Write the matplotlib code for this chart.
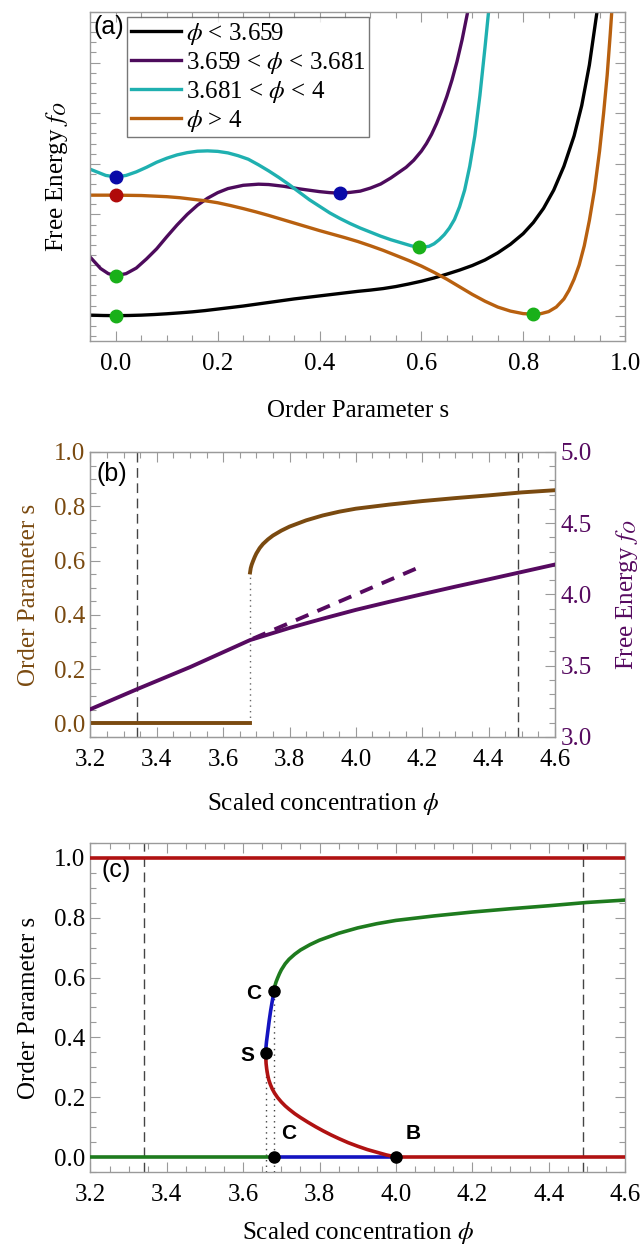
import numpy as np
import matplotlib
matplotlib.use('Agg')
import matplotlib.pyplot as plt
from matplotlib.ticker import MultipleLocator, NullFormatter, FormatStrFormatter

plt.rcParams['font.family'] = ['Liberation Serif', 'DejaVu Serif']
plt.rcParams['mathtext.fontset'] = 'stix'

# ---------------- Panel (a): free energy vs order parameter ----------------
s_black = [-0.05, -0.025, 0.0, 0.025, 0.05, 0.075, 0.10, 0.125, 0.15, 0.175, 0.20, 0.225,
           0.25, 0.275, 0.30, 0.325, 0.35, 0.375, 0.40, 0.425, 0.45, 0.475, 0.50, 0.525,
           0.55, 0.575, 0.60, 0.625, 0.65, 0.675, 0.70, 0.725, 0.75, 0.775, 0.80, 0.82,
           0.84, 0.86, 0.88, 0.90, 0.915, 0.93, 0.945, 0.95]
f_black = [0.01, 0.003, 0.0, 0.003, 0.01, 0.022, 0.037, 0.055, 0.075, 0.10, 0.13, 0.16,
           0.19, 0.225, 0.26, 0.295, 0.33, 0.36, 0.39, 0.42, 0.45, 0.48, 0.505, 0.535,
           0.575, 0.625, 0.68, 0.745, 0.82, 0.90, 0.99, 1.10, 1.24, 1.41, 1.62, 1.84,
           2.12, 2.48, 2.95, 3.55, 4.15, 4.95, 6.00, 6.40]

s_purple = [-0.05, -0.03, -0.015, 0.0, 0.02, 0.04, 0.06, 0.08, 0.10, 0.12, 0.14, 0.16, 0.18,
            0.20, 0.22, 0.25, 0.28, 0.30, 0.33, 0.36, 0.40, 0.42, 0.44, 0.46, 0.48, 0.50,
            0.52, 0.54, 0.57, 0.585, 0.60, 0.61, 0.62, 0.63, 0.64, 0.65, 0.66, 0.67, 0.68,
            0.69, 0.695]
f_purple = [1.15, 0.93, 0.83, 0.79, 0.83, 0.94, 1.12, 1.32, 1.56, 1.79, 2.00, 2.18, 2.32,
            2.43, 2.51, 2.575, 2.597, 2.59, 2.555, 2.505, 2.45, 2.43, 2.42, 2.435, 2.46,
            2.52, 2.60, 2.72, 2.93, 3.07, 3.25, 3.40, 3.58, 3.80, 4.05, 4.33, 4.65, 5.02,
            5.45, 5.95, 6.25]

s_cyan = [-0.05, -0.035, -0.02, 0.0, 0.02, 0.04, 0.06, 0.08, 0.10, 0.12, 0.14, 0.16, 0.18,
          0.20, 0.22, 0.24, 0.26, 0.28, 0.30, 0.32, 0.34, 0.36, 0.38, 0.40, 0.42, 0.44,
          0.46, 0.48, 0.50, 0.52, 0.54, 0.56, 0.58, 0.595, 0.605, 0.615, 0.625, 0.635,
          0.645, 0.655, 0.665, 0.675, 0.685, 0.695, 0.705, 0.715, 0.725, 0.735]
f_cyan = [2.89, 2.83, 2.77, 2.74, 2.77, 2.84, 2.93, 3.03, 3.11, 3.175, 3.22, 3.248, 3.255,
          3.245, 3.215, 3.16, 3.09, 2.98, 2.86, 2.73, 2.59, 2.44, 2.29, 2.16, 2.03, 1.92,
          1.82, 1.73, 1.65, 1.57, 1.50, 1.44, 1.38, 1.35, 1.355, 1.37, 1.42, 1.50,
          1.60, 1.73, 1.90, 2.15, 2.48, 2.95, 3.55, 4.35, 5.30, 6.30]

s_brown = [-0.05, 0.0, 0.05, 0.10, 0.125, 0.15, 0.175, 0.20, 0.225, 0.25, 0.275, 0.30,
           0.325, 0.35, 0.375, 0.40, 0.425, 0.45, 0.475, 0.50, 0.525, 0.55, 0.575, 0.60,
           0.625, 0.65, 0.675, 0.70, 0.725, 0.75, 0.775, 0.80, 0.82, 0.835, 0.85, 0.865,
           0.88, 0.89, 0.90, 0.91, 0.92, 0.93, 0.94, 0.95, 0.958, 0.965, 0.971, 0.976]
f_brown = [2.38, 2.38, 2.373, 2.35, 2.33, 2.30, 2.27, 2.23, 2.175, 2.115, 2.05, 1.98,
           1.905, 1.83, 1.755, 1.68, 1.61, 1.54, 1.465, 1.38, 1.29, 1.19, 1.09, 0.98,
           0.855, 0.72, 0.57, 0.42, 0.285, 0.17, 0.09, 0.04, 0.03, 0.04, 0.08, 0.17,
           0.33, 0.50, 0.72, 1.00, 1.38, 1.88, 2.48, 3.25, 4.00, 4.75, 5.56, 6.30]

dots_blue_s = [0.0, 0.44]
dots_blue_f = [2.74, 2.42]
dots_red_s = [0.0]
dots_red_f = [2.38]
dots_green_s = [0.0, 0.0, 0.595, 0.82]
dots_green_f = [0.79, 0.0, 1.35, 0.03]

legend_labels = [r'$\phi$ < 3.659', r'3.659 < $\phi$ < 3.681',
                 r'3.681 < $\phi$ < 4', r'$\phi$ > 4']

# ---------------- Panel (b)/(c): bifurcation data ----------------
phi_disordered = [3.2, 3.681]
s_disordered = [0.0, 0.0]

phi_upper = [3.681, 3.683, 3.686, 3.69, 3.695, 3.70, 3.71, 3.72, 3.735, 3.75, 3.775, 3.80,
             3.85, 3.90, 3.95, 4.00, 4.10, 4.20, 4.30, 4.40, 4.50, 4.60]
s_upper = [0.556, 0.572, 0.585, 0.598, 0.613, 0.626, 0.646, 0.661, 0.678, 0.692, 0.710,
           0.725, 0.748, 0.766, 0.780, 0.791, 0.806, 0.819, 0.830, 0.840, 0.851, 0.859]

phi_fe = [3.2, 3.34, 3.5, 3.681, 3.8, 3.9, 4.0, 4.1, 4.2, 4.3, 4.4, 4.5, 4.6]
f_fe = [3.195, 3.335, 3.49, 3.680, 3.765, 3.830, 3.892, 3.948, 4.002, 4.055, 4.106, 4.158, 4.210]

phi_fe_meta = [3.69, 4.19]
f_fe_meta = [3.69, 4.19]

phi_mid = [3.659, 3.6595, 3.661, 3.664, 3.668, 3.672, 3.676, 3.681]
s_mid = [0.348, 0.365, 0.385, 0.415, 0.455, 0.490, 0.520, 0.556]

phi_low = [3.659, 3.6592, 3.660, 3.6615, 3.664, 3.667, 3.671, 3.676, 3.682, 3.69, 3.70,
           3.71, 3.72, 3.735, 3.75, 3.77, 3.79, 3.81, 3.83, 3.85, 3.875, 3.90, 3.925,
           3.95, 3.975, 4.00]
s_low = [0.348, 0.330, 0.312, 0.295, 0.275, 0.258, 0.243, 0.228, 0.214, 0.199, 0.184,
         0.171, 0.160, 0.145, 0.132, 0.116, 0.101, 0.087, 0.074, 0.062, 0.048, 0.036,
         0.025, 0.016, 0.007, 0.0]

phi_zero_unstable = [3.681, 4.0]
phi_zero_stable_hi = [4.0, 4.6]
phi_full = [3.2, 4.6]

phi_spinodal = 3.659
s_spinodal = 0.348
phi_coex = 3.681
s_coex = 0.556
phi_bif = 4.0
phi_vlines = [3.34, 4.49]

# ---------------- styling ----------------
GRAY = '#9a9a9a'
FS = 18

fig = plt.figure(figsize=(6.43, 12.54), dpi=100)

def style_axes(ax, right=True, top=True):
    for sp in ax.spines.values():
        sp.set_color(GRAY)
        sp.set_linewidth(1.0)
    ax.tick_params(which='both', direction='in', color=GRAY, top=top, right=right,
                   labelsize=FS)
    ax.tick_params(which='major', length=7, width=0.8)
    ax.tick_params(which='minor', length=4, width=0.8)
    ax.tick_params(axis='x', pad=9)

# ---- (a)
axa = fig.add_axes([0.1407, 0.7281, 0.8313, 0.2624])
style_axes(axa)
c_black, c_purple, c_cyan, c_brown = 'black', '#4d0b5c', '#1fb0b0', '#b8600f'
axa.plot(s_black, f_black, color=c_black, lw=2.4, label=legend_labels[0])
axa.plot(s_purple, f_purple, color=c_purple, lw=2.4, label=legend_labels[1])
axa.plot(s_cyan, f_cyan, color=c_cyan, lw=2.4, label=legend_labels[2])
axa.plot(s_brown, f_brown, color=c_brown, lw=2.4, label=legend_labels[3])
axa.plot(dots_blue_s, dots_blue_f, 'o', color='#0a0aa8', ms=9, zorder=5)
axa.plot(dots_red_s, dots_red_f, 'o', color='#b00a0a', ms=9, zorder=5)
axa.plot(dots_green_s, dots_green_f, 'o', color='#19b019', ms=9, zorder=5)
axa.set_xlim(-0.05, 1.0)
axa.set_ylim(-0.5, 6.0)
axa.xaxis.set_major_locator(MultipleLocator(0.2))
axa.xaxis.set_minor_locator(MultipleLocator(0.05))
axa.xaxis.set_major_formatter(FormatStrFormatter('%.1f'))
axa.yaxis.set_major_locator(MultipleLocator(1.0))
axa.yaxis.set_minor_locator(MultipleLocator(0.2))
axa.yaxis.set_major_formatter(NullFormatter())
axa.set_xlabel('Order Parameter s', fontsize=FS, labelpad=18)
axa.set_ylabel(r'Free Energy $f_O$', fontsize=FS, labelpad=11)
leg = axa.legend(loc='upper left', bbox_to_anchor=(0.068, 0.985), fontsize=FS,
                 frameon=True, fancybox=False, handlelength=2.0, handletextpad=0.2,
                 borderpad=0.15, labelspacing=0.12, borderaxespad=0.0)
leg.get_frame().set_edgecolor('#555555')
leg.get_frame().set_linewidth(1.0)
axa.text(0.005, 0.99, '(a)', transform=axa.transAxes, ha='left', va='top',
         fontsize=FS, family=['Liberation Sans', 'DejaVu Sans'])

# ---- (b)
axb = fig.add_axes([0.1407, 0.4123, 0.7224, 0.2273])
style_axes(axb, right=False)
c_sbrown = '#7a4a10'
c_fpurple = '#560a60'
axb.plot(phi_disordered, s_disordered, color=c_sbrown, lw=2.8, zorder=4)
axb.plot(phi_upper, s_upper, color=c_sbrown, lw=2.8, zorder=4)
axb.plot([phi_coex, phi_coex], [0.0, s_upper[0]], color='#666666', lw=1.0,
         linestyle=(0, (1, 3)), zorder=3)
for xv in phi_vlines:
    axb.axvline(xv, color='#444444', lw=1.0, linestyle=(0, (7, 4)), zorder=2)
axb.set_xlim(3.2, 4.6)
axb.set_ylim(-0.05, 1.0)
axb.xaxis.set_major_locator(MultipleLocator(0.2))
axb.xaxis.set_minor_locator(MultipleLocator(0.05))
axb.xaxis.set_major_formatter(FormatStrFormatter('%.1f'))
axb.yaxis.set_major_locator(MultipleLocator(0.2))
axb.yaxis.set_minor_locator(MultipleLocator(0.05))
axb.yaxis.set_major_formatter(FormatStrFormatter('%.1f'))
axb.tick_params(axis='y', labelcolor=c_sbrown, pad=4)
axb.set_ylabel('Order Parameter s', fontsize=FS, color=c_sbrown, labelpad=10)
axb.set_xlabel(r'Scaled concentration $\phi$', fontsize=FS, labelpad=14)
axb.text(0.014, 0.965, '(b)', transform=axb.transAxes, ha='left', va='top',
         fontsize=FS, family=['Liberation Sans', 'DejaVu Sans'])

axb2 = axb.twinx()
for sp in axb2.spines.values():
    sp.set_color(GRAY)
axb2.plot(phi_fe, f_fe, color=c_fpurple, lw=2.8, zorder=4)
axb2.plot(phi_fe_meta, f_fe_meta, color=c_fpurple, lw=2.8, linestyle=(0, (3.5, 2.5)), zorder=4)
axb2.set_ylim(3.0, 5.0)
axb2.yaxis.set_major_locator(MultipleLocator(0.5))
axb2.yaxis.set_minor_locator(MultipleLocator(0.1))
axb2.yaxis.set_major_formatter(FormatStrFormatter('%.1f'))
axb2.tick_params(which='both', direction='in', color=GRAY, labelsize=FS,
                 labelcolor=c_fpurple, pad=4)
axb2.tick_params(which='major', length=7, width=0.8)
axb2.tick_params(which='minor', length=4, width=0.8)
axb2.set_ylabel(r'Free Energy $f_O$', fontsize=FS, color=c_fpurple, labelpad=16)

# ---- (c)
axc = fig.add_axes([0.1407, 0.0654, 0.8313, 0.2624])
style_axes(axc)
c_green, c_blue, c_red = '#1e7b1e', '#1414c0', '#b01212'
LW = 2.6
axc.plot(phi_full, [1.0, 1.0], color=c_red, lw=LW, zorder=4)
axc.plot(phi_disordered, s_disordered, color=c_green, lw=LW, zorder=4)
axc.plot(phi_zero_unstable, [0.0, 0.0], color=c_blue, lw=LW, zorder=4)
axc.plot(phi_zero_stable_hi, [0.0, 0.0], color=c_red, lw=LW, zorder=4)
axc.plot(phi_upper, s_upper, color=c_green, lw=LW, zorder=4)
axc.plot(phi_mid, s_mid, color=c_blue, lw=LW, zorder=4)
axc.plot(phi_low, s_low, color=c_red, lw=LW, zorder=4)
for xv in phi_vlines:
    axc.axvline(xv, color='#444444', lw=1.0, linestyle=(0, (7, 4)), zorder=2)
axc.plot([phi_spinodal, phi_spinodal], [-0.05, s_spinodal], color='#444444', lw=1.0,
         linestyle=(0, (1, 3)), zorder=3)
axc.plot([phi_coex, phi_coex], [-0.05, s_coex], color='#444444', lw=1.0,
         linestyle=(0, (1, 3)), zorder=3)
pts_x = [phi_coex, phi_spinodal, phi_coex, phi_bif]
pts_y = [s_coex, s_spinodal, 0.0, 0.0]
axc.plot(pts_x, pts_y, 'o', color='black', ms=8, zorder=6)
bold = dict(fontsize=15, fontweight='bold', family=['Liberation Sans', 'DejaVu Sans'])
axc.annotate('C', (phi_coex, s_coex), xytext=(-9, -2), textcoords='offset points',
             ha='right', va='center', **bold)
axc.annotate('S', (phi_spinodal, s_spinodal), xytext=(-8, -2), textcoords='offset points',
             ha='right', va='center', **bold)
axc.annotate('C', (phi_coex, 0.0), xytext=(5, 10), textcoords='offset points',
             ha='left', va='bottom', **bold)
axc.annotate('B', (phi_bif, 0.0), xytext=(7, 10), textcoords='offset points',
             ha='left', va='bottom', **bold)
axc.set_xlim(3.2, 4.6)
axc.set_ylim(-0.05, 1.05)
axc.xaxis.set_major_locator(MultipleLocator(0.2))
axc.xaxis.set_minor_locator(MultipleLocator(0.05))
axc.xaxis.set_major_formatter(FormatStrFormatter('%.1f'))
axc.yaxis.set_major_locator(MultipleLocator(0.2))
axc.yaxis.set_minor_locator(MultipleLocator(0.05))
axc.yaxis.set_major_formatter(FormatStrFormatter('%.1f'))
axc.tick_params(axis='y', pad=4)
axc.set_ylabel('Order Parameter s', fontsize=FS, labelpad=10)
axc.set_xlabel(r'Scaled concentration $\phi$', fontsize=FS, labelpad=10)
axc.text(0.02, 0.955, '(c)', transform=axc.transAxes, ha='left', va='top',
         fontsize=FS, family=['Liberation Sans', 'DejaVu Sans'])

fig.savefig('out.png', dpi=100)
